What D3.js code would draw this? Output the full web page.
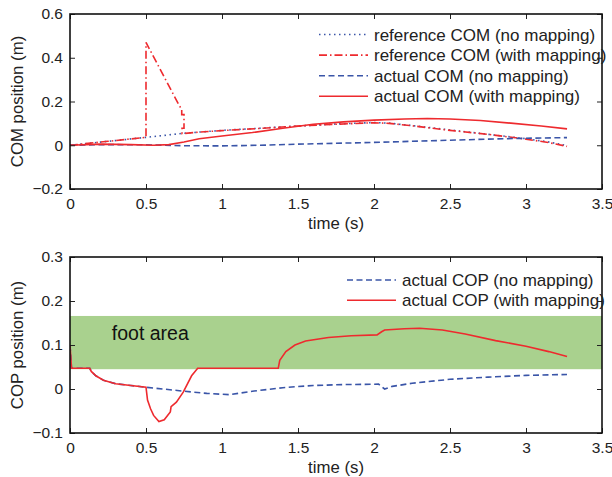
<!DOCTYPE html>
<html>
<head>
<meta charset="utf-8">
<script src="https://cdn.jsdelivr.net/npm/d3@7"></script>
<style>
  html, body { margin: 0; padding: 0; background: #fff; }
  svg { display: block; font-family: "Liberation Sans", Arial, Helvetica, sans-serif; }
</style>
</head>
<body>
<svg id="chart" width="612" height="477"></svg>
<script>
// ---------- DATA ----------
const xTicks = [0, 0.5, 1, 1.5, 2, 2.5, 3, 3.5];
const comYTicks = [-0.2, 0, 0.2, 0.4, 0.6];
const copYTicks = [-0.1, 0, 0.1, 0.2, 0.3];

const comLegend = [
  "reference COM (no mapping)",
  "reference COM (with mapping)",
  "actual COM (no mapping)",
  "actual COM (with mapping)"
];
const copLegend = ["actual COP (no mapping)", "actual COP (with mapping)"];

const footArea = [0.045, 0.166];
const footLabel = "foot area";

// [time (s), position (m)]
const refComNoMap = [[0,0],[0.25,0.018],[0.5,0.036],[0.75,0.055],[1.0,0.068],[1.25,0.078],[1.5,0.088],
  [1.75,0.097],[2.0,0.104],[2.1,0.101],[2.25,0.09],[2.5,0.07],[2.75,0.05],[3.0,0.03],[3.15,0.015],[3.27,-0.002]];
const refComMap = [[0,0],[0.25,0.018],[0.5,0.036],[0.5,0.47],[0.72,0.18],[0.735,0.165],[0.735,0.14],
  [0.75,0.14],[0.75,0.078],[0.737,0.078],[0.737,0.053],[0.85,0.06],[1.0,0.067],[1.25,0.077],[1.5,0.088],
  [1.75,0.096],[2.0,0.103],[2.1,0.1],[2.25,0.089],[2.5,0.068],[2.75,0.05],[3.0,0.028],[3.15,0.012],[3.27,-0.005]];
const actComNoMap = [[0,0],[0.25,0.003],[0.5,0.002],[0.75,-0.002],[1.0,-0.003],[1.25,0.0],[1.5,0.005],
  [1.75,0.009],[2.0,0.013],[2.25,0.018],[2.5,0.023],[2.75,0.028],[3.0,0.032],[3.27,0.035]];
const actComMap = [[0,0],[0.2,0.005],[0.4,0.003],[0.55,0.0],[0.65,0.003],[0.75,0.015],[0.85,0.03],[1.0,0.042],
  [1.2,0.058],[1.4,0.078],[1.6,0.096],[1.8,0.107],[2.0,0.115],[2.2,0.12],[2.35,0.122],[2.5,0.12],[2.7,0.113],
  [2.9,0.101],[3.1,0.088],[3.27,0.075]];

const copNoMap = [[0,0.1],[0.01,0.047],[0.13,0.047],[0.14,0.04],[0.17,0.03],[0.22,0.02],[0.3,0.012],[0.4,0.008],
  [0.5,0.004],[0.75,-0.005],[0.9,-0.01],[1.05,-0.013],[1.2,-0.005],[1.4,0.003],[1.6,0.008],[1.8,0.01],
  [2.03,0.011],[2.07,0.0],[2.12,0.006],[2.25,0.013],[2.5,0.022],[2.75,0.027],[3.0,0.031],[3.27,0.033]];
const copMap = [[0,0.1],[0.01,0.047],[0.13,0.047],[0.14,0.04],[0.17,0.03],[0.22,0.02],[0.3,0.012],[0.4,0.008],
  [0.5,0.004],[0.51,-0.025],[0.53,-0.045],[0.55,-0.06],[0.585,-0.074],[0.62,-0.07],[0.66,-0.052],[0.665,-0.04],
  [0.7,-0.03],[0.745,-0.007],[0.8,0.03],[0.84,0.047],[1.37,0.047],[1.38,0.065],[1.42,0.085],[1.48,0.1],
  [1.55,0.109],[1.7,0.117],[1.85,0.121],[2.02,0.123],[2.05,0.13],[2.07,0.134],[2.2,0.137],[2.3,0.138],
  [2.45,0.134],[2.6,0.125],[2.8,0.11],[3.0,0.097],[3.15,0.085],[3.27,0.074]];

// ---------- STYLE ----------
const RED = "#ee2a2e";
const BLUE = "#3a55a8";
const GREEN = "#a9d18e";
const styles = {
  dotted: { color: BLUE, dash: "1.5,3.5" },
  dashdot: { color: RED, dash: "8,3,1.5,3" },
  dashed: { color: BLUE, dash: "6,3.5" },
  solid: { color: RED, dash: null }
};

const svg = d3.select("#chart");

function panel(opts) {
  const x = d3.scaleLinear().domain([0, 3.5]).range([70, 602]);
  const y = d3.scaleLinear().domain(opts.yDomain).range([opts.bottom, opts.top]);
  const g = svg.append("g");
  const clipId = "clip" + opts.id;
  svg.append("clipPath").attr("id", clipId).append("rect")
    .attr("x", 70).attr("y", opts.top).attr("width", 532).attr("height", opts.bottom - opts.top);

  if (opts.band) {
    g.append("rect").attr("x", x(0)).attr("width", x(3.5) - x(0))
      .attr("y", y(opts.band[1])).attr("height", y(opts.band[0]) - y(opts.band[1]))
      .attr("fill", GREEN);
    g.append("text").attr("x", x(0.275)).attr("y", y(0.111)).attr("font-size", 19.5)
      .attr("fill", "#111").text(footLabel);
  }

  const line = d3.line().x(d => x(d[0])).y(d => y(d[1]));
  const lg = g.append("g").attr("clip-path", `url(#${clipId})`);
  opts.series.forEach(s => {
    const st = styles[s.style];
    lg.append("path").attr("d", line(s.data)).attr("fill", "none")
      .attr("stroke", st.color).attr("stroke-width", 1.6)
      .attr("stroke-dasharray", st.dash);
  });

  const fmt = d3.format("~g");
  const tickStyle = sel => {
    sel.select(".domain").remove();
    sel.selectAll(".tick line").attr("stroke", "#222").attr("stroke-width", 1);
    sel.selectAll(".tick text").attr("font-size", 15.5).attr("fill", "#222")
      .attr("font-family", "Liberation Sans, Arial, sans-serif");
  };
  g.append("g").attr("transform", `translate(0,${opts.bottom})`)
    .call(d3.axisBottom(x).tickValues(xTicks).tickFormat(fmt).tickSize(-5).tickPadding(9)).call(tickStyle);
  g.append("g").attr("transform", `translate(0,${opts.top})`)
    .call(d3.axisTop(x).tickValues(xTicks).tickFormat("").tickSize(-5)).call(tickStyle);
  g.append("g").attr("transform", `translate(70,0)`)
    .call(d3.axisLeft(y).tickValues(opts.yTicks).tickFormat(d => d < 0 ? "\u2212" + fmt(-d) : fmt(d)).tickSize(-5).tickPadding(7)).call(tickStyle);
  g.append("g").attr("transform", `translate(602,0)`)
    .call(d3.axisRight(y).tickValues(opts.yTicks).tickFormat("").tickSize(-5)).call(tickStyle);

  g.append("rect").attr("x", 70).attr("y", opts.top).attr("width", 532).attr("height", opts.bottom - opts.top)
    .attr("fill", "none").attr("stroke", "#111").attr("stroke-width", 1.6);

  // axis labels
  g.append("text").attr("x", 336).attr("y", opts.bottom + 40).attr("text-anchor", "middle")
    .attr("font-size", 16.8).attr("fill", "#222").text("time (s)");
  g.append("text").attr("transform", `translate(23,${(opts.top + opts.bottom) / 2}) rotate(-90)`)
    .attr("text-anchor", "middle").attr("font-size", 16.8).attr("fill", "#222").text(opts.ylabel);

  // legend
  const leg = g.append("g");
  opts.legend.forEach((name, i) => {
    const st = styles[opts.series[i].style];
    const yy = opts.legY + i * opts.legStep;
    leg.append("line").attr("x1", opts.legX).attr("x2", opts.legX + 49).attr("y1", yy).attr("y2", yy)
      .attr("stroke", st.color).attr("stroke-width", 1.6).attr("stroke-dasharray", st.dash);
    leg.append("text").attr("x", opts.legX + 55).attr("y", yy + 6).attr("font-size", 17)
      .attr("fill", "#222").text(name);
  });
}

panel({
  id: "top", top: 14, bottom: 189, yDomain: [-0.2, 0.6], yTicks: comYTicks, ylabel: "COM position (m)",
  series: [
    { data: refComNoMap, style: "dotted" },
    { data: refComMap, style: "dashdot" },
    { data: actComNoMap, style: "dashed" },
    { data: actComMap, style: "solid" }
  ],
  legend: comLegend, legX: 319, legY: 34.5, legStep: 20.6
});

panel({
  id: "bot", top: 257, bottom: 433, yDomain: [-0.1, 0.3], yTicks: copYTicks, ylabel: "COP position (m)",
  band: footArea,
  series: [
    { data: copNoMap, style: "dashed" },
    { data: copMap, style: "solid" }
  ],
  legend: copLegend, legX: 347, legY: 280, legStep: 20.3
});
</script>
</body>
</html>
